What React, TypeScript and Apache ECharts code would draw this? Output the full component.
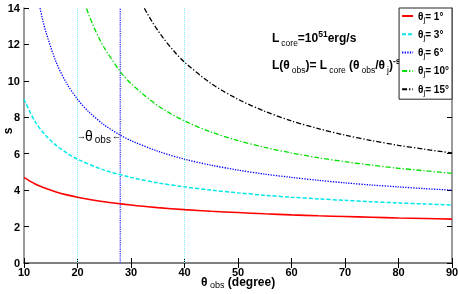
import React, { useEffect, useRef } from "react";
import * as echarts from "echarts";

const FONT = "Liberation Sans, Arial, sans-serif";

// theta_obs samples (degree) and s values
const xRed = [10, 12, 14, 16, 18, 20, 25, 30, 35, 40, 45, 50, 55, 60, 65, 70, 75, 80, 85, 90];
const sRed = [4.7, 4.35, 4.1, 3.9, 3.74, 3.61, 3.36, 3.18, 3.04, 2.93, 2.84, 2.77, 2.7, 2.64, 2.59, 2.55, 2.51, 2.47, 2.44, 2.41];

const xCyan = [10, 12, 14, 16, 18, 20, 25, 30, 35, 40, 45, 50, 55, 60, 65, 70, 75, 80, 85, 90];
const sCyan = [8.99, 7.8, 7.02, 6.46, 6.04, 5.7, 5.1, 4.7, 4.4, 4.18, 4.0, 3.85, 3.72, 3.61, 3.52, 3.44, 3.36, 3.3, 3.24, 3.18];

const xBlue = [13, 13.5, 14, 16, 18, 20, 22, 25, 28, 30, 35, 40, 45, 50, 55, 60, 65, 70, 75, 80, 85, 90];
const sBlue = [13.99, 13.34, 12.77, 11.03, 9.85, 8.99, 8.33, 7.58, 7.02, 6.72, 6.14, 5.7, 5.37, 5.1, 4.88, 4.7, 4.54, 4.4, 4.28, 4.18, 4.08, 4.0];

const xGreen = [21.7, 22, 23, 24, 25, 28, 30, 35, 40, 45, 50, 55, 60, 65, 70, 75, 80, 85, 90];
const sGreen = [13.97, 13.72, 12.99, 12.36, 11.81, 10.51, 9.85, 8.64, 7.8, 7.19, 6.72, 6.35, 6.04, 5.78, 5.56, 5.37, 5.2, 5.06, 4.92];

const xBlack = [32.5, 33, 34, 35, 36, 38, 40, 45, 50, 55, 60, 65, 70, 75, 80, 85, 90];
const sBlack = [13.99, 13.72, 13.22, 12.77, 12.36, 11.64, 11.03, 9.85, 8.99, 8.33, 7.8, 7.38, 7.02, 6.72, 6.46, 6.24, 6.04];

const jetAngles = ["1", "3", "6", "10", "15"];
const guideX = [20, 28, 40];

const xTicks = { min: 10, max: 90, interval: 10 };
const yTicks = { min: 0, max: 14, interval: 2 };

const pairs = (xs: number[], ys: number[]) => xs.map((x, i) => [x, ys[i]]);

export default function App() {
  const ref = useRef<HTMLDivElement>(null);
  useEffect(() => {
    if (!ref.current) return;
    const chart = echarts.init(ref.current, null, { renderer: "svg" });
    const names = jetAngles.map((a) => `j${a}`);
    const styles: any[] = [
      { color: "#ff0000", width: 1.6, type: "solid" },
      { color: "#00e8e8", width: 1.5, type: [4, 2] },
      { color: "#0000ff", width: 1.3, type: [1.3, 1.3] },
      { color: "#00e000", width: 1.3, type: [5, 2, 1.3, 2] },
      { color: "#000000", width: 1.3, type: [5, 2, 1.3, 2] },
    ];
    const datas = [
      pairs(xRed, sRed),
      pairs(xCyan, sCyan),
      pairs(xBlue, sBlue),
      pairs(xGreen, sGreen),
      pairs(xBlack, sBlack),
    ];
    const curveSeries = datas.map((d, i) => ({
      type: "line",
      name: names[i],
      data: d,
      smooth: 0.3,
      symbol: "none",
      lineStyle: styles[i],
      itemStyle: { color: styles[i].color },
      z: 3,
    }));
    const guideStyles: any[] = [
      { color: "#80f4f4", width: 1, type: [1, 1] },
      { color: "#4848ff", width: 1.5, type: [1.2, 1] },
      { color: "#80f4f4", width: 1, type: [1, 1] },
    ];
    const guideSeries = guideX.map((gx, i) => ({
      type: "line",
      name: `guide${gx}`,
      data: [
        [gx, yTicks.min],
        [gx, yTicks.max],
      ],
      symbol: "none",
      lineStyle: guideStyles[i],
      z: 2,
      silent: true,
    }));

    const axisLine = { show: true, lineStyle: { color: "#7a7a7a", width: 1.5 } };
    const labelStyle = { color: "#000", fontFamily: FONT, fontWeight: "bold", fontSize: 11 };

    const t = { fontFamily: FONT, fontWeight: "bold", fontSize: 12, lineHeight: 18, verticalAlign: "middle" as const, color: "#000" };
    const sub = { fontFamily: FONT, fontSize: 8.5, lineHeight: 7, verticalAlign: "bottom" as const, color: "#000", padding: [0, 0, 0, 2] };
    const sup = { fontFamily: FONT, fontWeight: "bold", fontSize: 8.5, lineHeight: 8, verticalAlign: "top" as const, color: "#000" };

    chart.setOption({
      animation: false,
      grid: { left: 24, right: 6, top: 8, bottom: 31, containLabel: false, outerBoundsMode: "none" },
      xAxis: [
        {
          type: "value",
          ...xTicks,
          position: "bottom",
          axisLine,
          axisTick: { inside: true, length: 5, lineStyle: { color: "#000" } },
          splitLine: { show: false },
          axisLabel: { ...labelStyle, margin: 3 },
        },
        {
          type: "value",
          ...xTicks,
          position: "top",
          axisLine,
          axisTick: { inside: true, length: 5, lineStyle: { color: "#000" } },
          axisLabel: { show: false },
          splitLine: { show: false },
        },
      ],
      yAxis: [
        {
          type: "value",
          ...yTicks,
          position: "left",
          axisLine,
          axisTick: { inside: true, length: 5, lineStyle: { color: "#000" } },
          splitLine: { show: false },
          axisLabel: { ...labelStyle, margin: 4 },
        },
        {
          type: "value",
          ...yTicks,
          position: "right",
          axisLine,
          axisTick: { inside: true, length: 5, lineStyle: { color: "#000" } },
          axisLabel: { show: false },
          splitLine: { show: false },
        },
      ],
      legend: {
        data: names,
        orient: "vertical",
        right: 6,
        top: 8,
        backgroundColor: "#fff",
        borderColor: "#222",
        borderWidth: 1,
        borderRadius: 0,
        padding: [3, 3, 3, 2],
        itemWidth: 11,
        itemHeight: 8,
        itemGap: 6.3,
        itemStyle: { opacity: 0, borderWidth: 0 },
        formatter: (n: string) => `{t|θ}{s|j}{t|= ${n.slice(1)}°}`,
        textStyle: {
          rich: {
            t: { fontFamily: FONT, fontWeight: "bold", fontSize: 10, lineHeight: 14, verticalAlign: "middle", color: "#000" },
            s: { fontFamily: FONT, fontSize: 8, lineHeight: 6, verticalAlign: "bottom", color: "#000" },
          },
        },
      },
      graphic: [
        {
          type: "text",
          left: 272,
          top: 29,
          style: {
            text: "{t|L}{s|core}{t|=10}{p|51}{t|erg/s}",
            rich: { t, s: sub, p: sup },
          },
        },
        {
          type: "text",
          left: 272,
          top: 56,
          style: {
            text: "{t|L(θ}{s|obs}{t|)= L}{s|core}{t| (θ}{s|obs}{t|/θ}{s|j}{t|)}{p|-s}",
            rich: { t, s: sub, p: sup },
          },
        },
        {
          type: "text",
          left: 77,
          top: 131,
          style: { text: "→", font: `bold 9px ${FONT}`, fill: "#000" },
        },
        {
          type: "text",
          left: 85,
          top: 129,
          style: {
            text: "{t|θ}{s|obs}",
            rich: {
              t: { fontFamily: FONT, fontSize: 14, lineHeight: 16, verticalAlign: "middle", color: "#000" },
              s: { fontFamily: FONT, fontSize: 10, lineHeight: 8, verticalAlign: "bottom", color: "#000", padding: [0, 0, 0, 2] },
            },
          },
        },
        {
          type: "text",
          left: 112,
          top: 131,
          style: { text: "←", font: `bold 9px ${FONT}`, fill: "#000" },
        },
        {
          type: "text",
          left: 201,
          top: 276,
          style: {
            text: "{t|θ}{s| obs}{t| (degree)}",
            rich: {
              t: { fontFamily: FONT, fontWeight: "bold", fontSize: 12, lineHeight: 14, verticalAlign: "middle", color: "#000" },
              s: { fontFamily: FONT, fontSize: 9, lineHeight: 8, verticalAlign: "bottom", color: "#000" },
            },
          },
        },
        {
          type: "text",
          x: 8,
          y: 131,
          rotation: Math.PI / 2,
          style: {
            text: "s",
            font: `bold 12px ${FONT}`,
            fill: "#000",
            align: "center",
            verticalAlign: "middle",
          },
        },
      ],
      series: [...guideSeries, ...curveSeries],
    });
    return () => chart.dispose();
  }, []);
  return (
    <div
      ref={ref}
      style={{ position: "fixed", left: 0, top: 0, width: 458, height: 294 }}
    />
  );
}
